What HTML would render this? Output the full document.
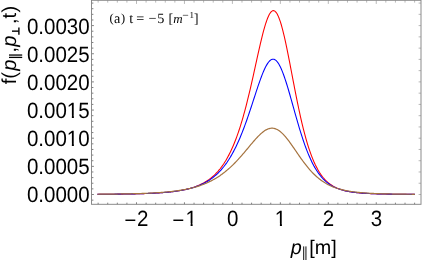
<!DOCTYPE html>
<html><head><meta charset="utf-8"><style>
html,body{margin:0;padding:0;background:#fff;}
svg{display:block;filter:blur(0.35px);}
text{font-family:"Liberation Sans",sans-serif;fill:#000;text-rendering:geometricPrecision;}
.s text{font-family:"Liberation Serif",serif;}
</style></head><body>
<svg width="422" height="260" viewBox="0 0 422 260">
<rect width="422" height="260" fill="#fff"/>
<g clip-path="url(#cp)">
<path d="M97.42,194.32 L98.22,194.31 L99.01,194.31 L99.81,194.31 L100.60,194.30 L101.40,194.30 L102.19,194.29 L102.99,194.29 L103.79,194.28 L104.58,194.27 L105.38,194.27 L106.17,194.26 L106.97,194.26 L107.76,194.25 L108.56,194.24 L109.35,194.24 L110.15,194.23 L110.95,194.22 L111.74,194.22 L112.54,194.21 L113.33,194.20 L114.13,194.19 L114.92,194.18 L115.72,194.18 L116.51,194.17 L117.31,194.16 L118.11,194.15 L118.90,194.14 L119.70,194.13 L120.49,194.12 L121.29,194.11 L122.08,194.10 L122.88,194.09 L123.67,194.08 L124.47,194.06 L125.27,194.05 L126.06,194.04 L126.86,194.03 L127.65,194.01 L128.45,194.00 L129.24,193.98 L130.04,193.97 L130.83,193.95 L131.63,193.94 L132.43,193.92 L133.22,193.91 L134.02,193.89 L134.81,193.87 L135.61,193.85 L136.40,193.83 L137.20,193.81 L137.99,193.79 L138.79,193.77 L139.59,193.75 L140.38,193.73 L141.18,193.70 L141.97,193.68 L142.77,193.65 L143.56,193.63 L144.36,193.60 L145.15,193.57 L145.95,193.55 L146.75,193.52 L147.54,193.49 L148.34,193.45 L149.13,193.42 L149.93,193.39 L150.72,193.35 L151.52,193.32 L152.31,193.28 L153.11,193.24 L153.91,193.20 L154.70,193.16 L155.50,193.11 L156.29,193.07 L157.09,193.02 L157.88,192.97 L158.68,192.92 L159.47,192.87 L160.27,192.82 L161.07,192.76 L161.86,192.71 L162.66,192.65 L163.45,192.58 L164.25,192.52 L165.04,192.45 L165.84,192.38 L166.63,192.31 L167.43,192.24 L168.23,192.16 L169.02,192.08 L169.82,192.00 L170.61,191.91 L171.41,191.82 L172.20,191.73 L173.00,191.63 L173.79,191.53 L174.59,191.43 L175.39,191.32 L176.18,191.21 L176.98,191.09 L177.77,190.97 L178.57,190.84 L179.36,190.71 L180.16,190.58 L180.95,190.43 L181.75,190.29 L182.55,190.14 L183.34,189.98 L184.14,189.81 L184.93,189.64 L185.73,189.46 L186.52,189.28 L187.32,189.09 L188.11,188.89 L188.91,188.68 L189.71,188.46 L190.50,188.24 L191.30,188.01 L192.09,187.76 L192.89,187.51 L193.68,187.25 L194.48,186.98 L195.27,186.69 L196.07,186.40 L196.87,186.09 L197.66,185.77 L198.46,185.44 L199.25,185.09 L200.05,184.73 L200.84,184.35 L201.64,183.96 L202.43,183.56 L203.23,183.14 L204.03,182.70 L204.82,182.24 L205.62,181.76 L206.41,181.27 L207.21,180.75 L208.00,180.22 L208.80,179.66 L209.59,179.08 L210.39,178.47 L211.19,177.84 L211.98,177.19 L212.78,176.51 L213.57,175.80 L214.37,175.06 L215.16,174.29 L215.96,173.49 L216.75,172.66 L217.55,171.80 L218.35,170.90 L219.14,169.96 L219.94,168.99 L220.73,167.98 L221.53,166.93 L222.32,165.83 L223.12,164.69 L223.92,163.51 L224.71,162.28 L225.51,161.00 L226.30,159.67 L227.10,158.29 L227.89,156.86 L228.69,155.37 L229.48,153.83 L230.28,152.23 L231.08,150.56 L231.87,148.84 L232.67,147.05 L233.46,145.19 L234.26,143.27 L235.05,141.28 L235.85,139.21 L236.64,137.08 L237.44,134.87 L238.24,132.59 L239.03,130.24 L239.83,127.80 L240.62,125.29 L241.42,122.70 L242.21,120.04 L243.01,117.30 L243.80,114.47 L244.60,111.57 L245.40,108.60 L246.19,105.55 L246.99,102.43 L247.78,99.24 L248.58,95.98 L249.37,92.66 L250.17,89.27 L250.96,85.84 L251.76,82.35 L252.56,78.82 L253.35,75.26 L254.15,71.67 L254.94,68.06 L255.74,64.44 L256.53,60.83 L257.33,57.22 L258.12,53.64 L258.92,50.10 L259.72,46.61 L260.51,43.19 L261.31,39.85 L262.10,36.61 L262.90,33.48 L263.69,30.48 L264.49,27.64 L265.28,24.95 L266.08,22.45 L266.88,20.15 L267.67,18.06 L268.47,16.20 L269.26,14.59 L270.06,13.23 L270.85,12.15 L271.65,11.35 L272.44,10.84 L273.24,10.63 L274.04,10.72 L274.83,11.12 L275.63,11.81 L276.42,12.80 L277.22,14.08 L278.01,15.65 L278.81,17.49 L279.60,19.58 L280.40,21.93 L281.20,24.52 L281.99,27.33 L282.79,30.34 L283.58,33.54 L284.38,36.92 L285.17,40.45 L285.97,44.12 L286.76,47.91 L287.56,51.81 L288.36,55.79 L289.15,59.84 L289.95,63.94 L290.74,68.08 L291.54,72.24 L292.33,76.40 L293.13,80.56 L293.92,84.70 L294.72,88.80 L295.52,92.87 L296.31,96.87 L297.11,100.82 L297.90,104.70 L298.70,108.49 L299.49,112.20 L300.29,115.82 L301.08,119.35 L301.88,122.77 L302.68,126.10 L303.47,129.32 L304.27,132.43 L305.06,135.43 L305.86,138.33 L306.65,141.11 L307.45,143.79 L308.24,146.36 L309.04,148.83 L309.84,151.19 L310.63,153.44 L311.43,155.60 L312.22,157.66 L313.02,159.62 L313.81,161.49 L314.61,163.27 L315.40,164.96 L316.20,166.57 L317.00,168.10 L317.79,169.54 L318.59,170.92 L319.38,172.22 L320.18,173.45 L320.97,174.61 L321.77,175.71 L322.56,176.75 L323.36,177.74 L324.16,178.67 L324.95,179.54 L325.75,180.37 L326.54,181.15 L327.34,181.89 L328.13,182.58 L328.93,183.24 L329.72,183.85 L330.52,184.44 L331.32,184.98 L332.11,185.50 L332.91,185.99 L333.70,186.44 L334.50,186.88 L335.29,187.28 L336.09,187.67 L336.88,188.03 L337.68,188.37 L338.48,188.69 L339.27,188.99 L340.07,189.27 L340.86,189.54 L341.66,189.79 L342.45,190.03 L343.25,190.26 L344.04,190.47 L344.84,190.67 L345.64,190.86 L346.43,191.04 L347.23,191.21 L348.02,191.37 L348.82,191.52 L349.61,191.66 L350.41,191.80 L351.20,191.92 L352.00,192.04 L352.80,192.16 L353.59,192.27 L354.39,192.37 L355.18,192.47 L355.98,192.56 L356.77,192.65 L357.57,192.73 L358.36,192.81 L359.16,192.88 L359.96,192.95 L360.75,193.02 L361.55,193.09 L362.34,193.15 L363.14,193.21 L363.93,193.26 L364.73,193.31 L365.52,193.36 L366.32,193.41 L367.12,193.46 L367.91,193.50 L368.71,193.54 L369.50,193.58 L370.30,193.62 L371.09,193.65 L371.89,193.69 L372.68,193.72 L373.48,193.75 L374.28,193.78 L375.07,193.81 L375.87,193.83 L376.66,193.86 L377.46,193.88 L378.25,193.91 L379.05,193.93 L379.85,193.95 L380.64,193.97 L381.44,193.99 L382.23,194.01 L383.03,194.03 L383.82,194.05 L384.62,194.06 L385.41,194.08 L386.21,194.09 L387.01,194.11 L387.80,194.12 L388.60,194.14 L389.39,194.15 L390.19,194.16 L390.98,194.17 L391.78,194.19 L392.57,194.20 L393.37,194.21 L394.17,194.22 L394.96,194.23 L395.76,194.24 L396.55,194.24 L397.35,194.25 L398.14,194.26 L398.94,194.27 L399.73,194.28 L400.53,194.28 L401.33,194.29 L402.12,194.30 L402.92,194.31 L403.71,194.31 L404.51,194.32 L405.30,194.32 L406.10,194.33 L406.89,194.33 L407.69,194.34 L408.49,194.34 L409.28,194.35 L410.08,194.35 L410.87,194.36 L411.67,194.36 L412.46,194.37 L413.26,194.37 L414.05,194.38 L414.85,194.38" fill="none" stroke="#ff0000" stroke-width="1.08" stroke-linejoin="round"/>
<path d="M97.42,194.31 L98.22,194.30 L99.01,194.30 L99.81,194.29 L100.60,194.29 L101.40,194.28 L102.19,194.28 L102.99,194.27 L103.79,194.26 L104.58,194.26 L105.38,194.25 L106.17,194.25 L106.97,194.24 L107.76,194.23 L108.56,194.23 L109.35,194.22 L110.15,194.21 L110.95,194.20 L111.74,194.20 L112.54,194.19 L113.33,194.18 L114.13,194.17 L114.92,194.16 L115.72,194.15 L116.51,194.15 L117.31,194.14 L118.11,194.13 L118.90,194.12 L119.70,194.11 L120.49,194.10 L121.29,194.08 L122.08,194.07 L122.88,194.06 L123.67,194.05 L124.47,194.04 L125.27,194.03 L126.06,194.01 L126.86,194.00 L127.65,193.98 L128.45,193.97 L129.24,193.96 L130.04,193.94 L130.83,193.92 L131.63,193.91 L132.43,193.89 L133.22,193.87 L134.02,193.86 L134.81,193.84 L135.61,193.82 L136.40,193.80 L137.20,193.78 L137.99,193.76 L138.79,193.74 L139.59,193.71 L140.38,193.69 L141.18,193.67 L141.97,193.64 L142.77,193.62 L143.56,193.59 L144.36,193.56 L145.15,193.53 L145.95,193.50 L146.75,193.47 L147.54,193.44 L148.34,193.41 L149.13,193.38 L149.93,193.34 L150.72,193.31 L151.52,193.27 L152.31,193.23 L153.11,193.19 L153.91,193.15 L154.70,193.11 L155.50,193.07 L156.29,193.02 L157.09,192.97 L157.88,192.93 L158.68,192.88 L159.47,192.82 L160.27,192.77 L161.07,192.71 L161.86,192.66 L162.66,192.60 L163.45,192.53 L164.25,192.47 L165.04,192.40 L165.84,192.34 L166.63,192.26 L167.43,192.19 L168.23,192.11 L169.02,192.03 L169.82,191.95 L170.61,191.87 L171.41,191.78 L172.20,191.69 L173.00,191.59 L173.79,191.49 L174.59,191.39 L175.39,191.29 L176.18,191.18 L176.98,191.06 L177.77,190.95 L178.57,190.82 L179.36,190.70 L180.16,190.56 L180.95,190.43 L181.75,190.29 L182.55,190.14 L183.34,189.99 L184.14,189.83 L184.93,189.67 L185.73,189.49 L186.52,189.32 L187.32,189.13 L188.11,188.94 L188.91,188.75 L189.71,188.54 L190.50,188.33 L191.30,188.11 L192.09,187.88 L192.89,187.64 L193.68,187.40 L194.48,187.14 L195.27,186.87 L196.07,186.60 L196.87,186.31 L197.66,186.01 L198.46,185.71 L199.25,185.39 L200.05,185.05 L200.84,184.71 L201.64,184.35 L202.43,183.98 L203.23,183.59 L204.03,183.19 L204.82,182.78 L205.62,182.34 L206.41,181.90 L207.21,181.43 L208.00,180.95 L208.80,180.45 L209.59,179.93 L210.39,179.39 L211.19,178.83 L211.98,178.25 L212.78,177.65 L213.57,177.03 L214.37,176.38 L215.16,175.71 L215.96,175.02 L216.75,174.30 L217.55,173.55 L218.35,172.77 L219.14,171.97 L219.94,171.14 L220.73,170.28 L221.53,169.38 L222.32,168.46 L223.12,167.50 L223.92,166.51 L224.71,165.48 L225.51,164.42 L226.30,163.32 L227.10,162.19 L227.89,161.01 L228.69,159.80 L229.48,158.54 L230.28,157.24 L231.08,155.90 L231.87,154.52 L232.67,153.09 L233.46,151.62 L234.26,150.11 L235.05,148.54 L235.85,146.93 L236.64,145.28 L237.44,143.57 L238.24,141.82 L239.03,140.02 L239.83,138.17 L240.62,136.27 L241.42,134.33 L242.21,132.34 L243.01,130.30 L243.80,128.22 L244.60,126.09 L245.40,123.92 L246.19,121.71 L246.99,119.46 L247.78,117.18 L248.58,114.86 L249.37,112.51 L250.17,110.13 L250.96,107.73 L251.76,105.31 L252.56,102.88 L253.35,100.44 L254.15,97.99 L254.94,95.55 L255.74,93.12 L256.53,90.70 L257.33,88.30 L258.12,85.94 L258.92,83.62 L259.72,81.34 L260.51,79.13 L261.31,76.98 L262.10,74.91 L262.90,72.92 L263.69,71.03 L264.49,69.24 L265.28,67.57 L266.08,66.03 L266.88,64.62 L267.67,63.35 L268.47,62.24 L269.26,61.28 L270.06,60.50 L270.85,59.89 L271.65,59.46 L272.44,59.22 L273.24,59.17 L274.04,59.30 L274.83,59.63 L275.63,60.15 L276.42,60.86 L277.22,61.75 L278.01,62.81 L278.81,64.05 L279.60,65.46 L280.40,67.02 L281.20,68.74 L281.99,70.60 L282.79,72.60 L283.58,74.72 L284.38,76.96 L285.17,79.30 L285.97,81.74 L286.76,84.26 L287.56,86.87 L288.36,89.53 L289.15,92.25 L289.95,95.02 L290.74,97.82 L291.54,100.64 L292.33,103.49 L293.13,106.34 L293.92,109.19 L294.72,112.03 L295.52,114.86 L296.31,117.67 L297.11,120.44 L297.90,123.19 L298.70,125.89 L299.49,128.54 L300.29,131.15 L301.08,133.70 L301.88,136.20 L302.68,138.63 L303.47,141.01 L304.27,143.31 L305.06,145.56 L305.86,147.73 L306.65,149.84 L307.45,151.87 L308.24,153.84 L309.04,155.74 L309.84,157.57 L310.63,159.33 L311.43,161.02 L312.22,162.64 L313.02,164.20 L313.81,165.69 L314.61,167.12 L315.40,168.48 L316.20,169.79 L317.00,171.04 L317.79,172.23 L318.59,173.36 L319.38,174.44 L320.18,175.47 L320.97,176.45 L321.77,177.38 L322.56,178.26 L323.36,179.10 L324.16,179.90 L324.95,180.65 L325.75,181.37 L326.54,182.05 L327.34,182.69 L328.13,183.30 L328.93,183.88 L329.72,184.43 L330.52,184.95 L331.32,185.44 L332.11,185.90 L332.91,186.34 L333.70,186.75 L334.50,187.14 L335.29,187.52 L336.09,187.87 L336.88,188.20 L337.68,188.51 L338.48,188.81 L339.27,189.09 L340.07,189.36 L340.86,189.61 L341.66,189.84 L342.45,190.07 L343.25,190.28 L344.04,190.48 L344.84,190.67 L345.64,190.86 L346.43,191.03 L347.23,191.19 L348.02,191.34 L348.82,191.49 L349.61,191.63 L350.41,191.76 L351.20,191.88 L352.00,192.00 L352.80,192.11 L353.59,192.22 L354.39,192.32 L355.18,192.41 L355.98,192.51 L356.77,192.59 L357.57,192.67 L358.36,192.75 L359.16,192.83 L359.96,192.90 L360.75,192.97 L361.55,193.03 L362.34,193.09 L363.14,193.15 L363.93,193.21 L364.73,193.26 L365.52,193.31 L366.32,193.36 L367.12,193.40 L367.91,193.45 L368.71,193.49 L369.50,193.53 L370.30,193.57 L371.09,193.60 L371.89,193.64 L372.68,193.67 L373.48,193.70 L374.28,193.73 L375.07,193.76 L375.87,193.79 L376.66,193.82 L377.46,193.84 L378.25,193.87 L379.05,193.89 L379.85,193.91 L380.64,193.94 L381.44,193.96 L382.23,193.98 L383.03,194.00 L383.82,194.01 L384.62,194.03 L385.41,194.05 L386.21,194.06 L387.01,194.08 L387.80,194.09 L388.60,194.11 L389.39,194.12 L390.19,194.13 L390.98,194.15 L391.78,194.16 L392.57,194.17 L393.37,194.18 L394.17,194.19 L394.96,194.20 L395.76,194.21 L396.55,194.22 L397.35,194.23 L398.14,194.24 L398.94,194.25 L399.73,194.26 L400.53,194.27 L401.33,194.27 L402.12,194.28 L402.92,194.29 L403.71,194.29 L404.51,194.30 L405.30,194.31 L406.10,194.31 L406.89,194.32 L407.69,194.32 L408.49,194.33 L409.28,194.34 L410.08,194.34 L410.87,194.34 L411.67,194.35 L412.46,194.35 L413.26,194.36 L414.05,194.36 L414.85,194.37" fill="none" stroke="#0000ff" stroke-width="1.08" stroke-linejoin="round"/>
<path d="M97.42,194.24 L98.22,194.24 L99.01,194.23 L99.81,194.22 L100.60,194.22 L101.40,194.21 L102.19,194.20 L102.99,194.20 L103.79,194.19 L104.58,194.18 L105.38,194.17 L106.17,194.17 L106.97,194.16 L107.76,194.15 L108.56,194.14 L109.35,194.13 L110.15,194.12 L110.95,194.11 L111.74,194.10 L112.54,194.09 L113.33,194.08 L114.13,194.07 L114.92,194.06 L115.72,194.05 L116.51,194.04 L117.31,194.03 L118.11,194.02 L118.90,194.01 L119.70,193.99 L120.49,193.98 L121.29,193.97 L122.08,193.95 L122.88,193.94 L123.67,193.93 L124.47,193.91 L125.27,193.90 L126.06,193.88 L126.86,193.86 L127.65,193.85 L128.45,193.83 L129.24,193.81 L130.04,193.80 L130.83,193.78 L131.63,193.76 L132.43,193.74 L133.22,193.72 L134.02,193.70 L134.81,193.68 L135.61,193.65 L136.40,193.63 L137.20,193.61 L137.99,193.58 L138.79,193.56 L139.59,193.53 L140.38,193.51 L141.18,193.48 L141.97,193.45 L142.77,193.42 L143.56,193.39 L144.36,193.36 L145.15,193.33 L145.95,193.30 L146.75,193.26 L147.54,193.23 L148.34,193.19 L149.13,193.16 L149.93,193.12 L150.72,193.08 L151.52,193.04 L152.31,193.00 L153.11,192.95 L153.91,192.91 L154.70,192.86 L155.50,192.82 L156.29,192.77 L157.09,192.72 L157.88,192.67 L158.68,192.61 L159.47,192.56 L160.27,192.50 L161.07,192.44 L161.86,192.38 L162.66,192.32 L163.45,192.26 L164.25,192.19 L165.04,192.12 L165.84,192.05 L166.63,191.98 L167.43,191.90 L168.23,191.83 L169.02,191.75 L169.82,191.66 L170.61,191.58 L171.41,191.49 L172.20,191.40 L173.00,191.31 L173.79,191.21 L174.59,191.11 L175.39,191.01 L176.18,190.90 L176.98,190.79 L177.77,190.68 L178.57,190.56 L179.36,190.44 L180.16,190.32 L180.95,190.19 L181.75,190.06 L182.55,189.92 L183.34,189.78 L184.14,189.64 L184.93,189.49 L185.73,189.33 L186.52,189.17 L187.32,189.01 L188.11,188.84 L188.91,188.67 L189.71,188.49 L190.50,188.30 L191.30,188.11 L192.09,187.91 L192.89,187.71 L193.68,187.49 L194.48,187.28 L195.27,187.05 L196.07,186.82 L196.87,186.59 L197.66,186.34 L198.46,186.09 L199.25,185.83 L200.05,185.56 L200.84,185.28 L201.64,185.00 L202.43,184.71 L203.23,184.40 L204.03,184.09 L204.82,183.77 L205.62,183.44 L206.41,183.10 L207.21,182.75 L208.00,182.39 L208.80,182.02 L209.59,181.64 L210.39,181.25 L211.19,180.85 L211.98,180.44 L212.78,180.01 L213.57,179.58 L214.37,179.13 L215.16,178.67 L215.96,178.19 L216.75,177.71 L217.55,177.21 L218.35,176.70 L219.14,176.17 L219.94,175.64 L220.73,175.08 L221.53,174.52 L222.32,173.94 L223.12,173.35 L223.92,172.74 L224.71,172.12 L225.51,171.48 L226.30,170.83 L227.10,170.16 L227.89,169.48 L228.69,168.79 L229.48,168.08 L230.28,167.36 L231.08,166.62 L231.87,165.87 L232.67,165.10 L233.46,164.32 L234.26,163.52 L235.05,162.71 L235.85,161.89 L236.64,161.06 L237.44,160.21 L238.24,159.35 L239.03,158.47 L239.83,157.59 L240.62,156.69 L241.42,155.79 L242.21,154.87 L243.01,153.95 L243.80,153.02 L244.60,152.08 L245.40,151.14 L246.19,150.19 L246.99,149.24 L247.78,148.28 L248.58,147.33 L249.37,146.37 L250.17,145.42 L250.96,144.47 L251.76,143.52 L252.56,142.59 L253.35,141.66 L254.15,140.74 L254.94,139.84 L255.74,138.95 L256.53,138.07 L257.33,137.22 L258.12,136.39 L258.92,135.59 L259.72,134.81 L260.51,134.06 L261.31,133.35 L262.10,132.66 L262.90,132.02 L263.69,131.42 L264.49,130.86 L265.28,130.35 L266.08,129.88 L266.88,129.47 L267.67,129.11 L268.47,128.80 L269.26,128.55 L270.06,128.37 L270.85,128.24 L271.65,128.18 L272.44,128.18 L273.24,128.25 L274.04,128.39 L274.83,128.59 L275.63,128.85 L276.42,129.18 L277.22,129.56 L278.01,130.01 L278.81,130.52 L279.60,131.09 L280.40,131.71 L281.20,132.38 L281.99,133.11 L282.79,133.88 L283.58,134.70 L284.38,135.56 L285.17,136.46 L285.97,137.40 L286.76,138.38 L287.56,139.38 L288.36,140.42 L289.15,141.47 L289.95,142.56 L290.74,143.66 L291.54,144.78 L292.33,145.91 L293.13,147.05 L293.92,148.20 L294.72,149.36 L295.52,150.52 L296.31,151.68 L297.11,152.84 L297.90,154.00 L298.70,155.15 L299.49,156.29 L300.29,157.43 L301.08,158.55 L301.88,159.66 L302.68,160.75 L303.47,161.83 L304.27,162.90 L305.06,163.94 L305.86,164.97 L306.65,165.97 L307.45,166.96 L308.24,167.92 L309.04,168.86 L309.84,169.78 L310.63,170.67 L311.43,171.54 L312.22,172.39 L313.02,173.22 L313.81,174.02 L314.61,174.80 L315.40,175.55 L316.20,176.28 L317.00,176.99 L317.79,177.67 L318.59,178.33 L319.38,178.97 L320.18,179.59 L320.97,180.18 L321.77,180.76 L322.56,181.31 L323.36,181.84 L324.16,182.35 L324.95,182.85 L325.75,183.32 L326.54,183.78 L327.34,184.21 L328.13,184.63 L328.93,185.04 L329.72,185.43 L330.52,185.80 L331.32,186.15 L332.11,186.50 L332.91,186.82 L333.70,187.14 L334.50,187.44 L335.29,187.73 L336.09,188.00 L336.88,188.27 L337.68,188.52 L338.48,188.77 L339.27,189.00 L340.07,189.22 L340.86,189.43 L341.66,189.64 L342.45,189.83 L343.25,190.02 L344.04,190.20 L344.84,190.37 L345.64,190.53 L346.43,190.69 L347.23,190.84 L348.02,190.98 L348.82,191.12 L349.61,191.25 L350.41,191.38 L351.20,191.50 L352.00,191.62 L352.80,191.73 L353.59,191.83 L354.39,191.94 L355.18,192.03 L355.98,192.13 L356.77,192.22 L357.57,192.30 L358.36,192.39 L359.16,192.46 L359.96,192.54 L360.75,192.61 L361.55,192.68 L362.34,192.75 L363.14,192.81 L363.93,192.87 L364.73,192.93 L365.52,192.99 L366.32,193.04 L367.12,193.10 L367.91,193.15 L368.71,193.20 L369.50,193.24 L370.30,193.29 L371.09,193.33 L371.89,193.37 L372.68,193.41 L373.48,193.45 L374.28,193.48 L375.07,193.52 L375.87,193.55 L376.66,193.58 L377.46,193.62 L378.25,193.65 L379.05,193.67 L379.85,193.70 L380.64,193.73 L381.44,193.76 L382.23,193.78 L383.03,193.80 L383.82,193.83 L384.62,193.85 L385.41,193.87 L386.21,193.89 L387.01,193.91 L387.80,193.93 L388.60,193.95 L389.39,193.97 L390.19,193.98 L390.98,194.00 L391.78,194.01 L392.57,194.03 L393.37,194.05 L394.17,194.06 L394.96,194.07 L395.76,194.09 L396.55,194.10 L397.35,194.11 L398.14,194.12 L398.94,194.13 L399.73,194.15 L400.53,194.16 L401.33,194.17 L402.12,194.18 L402.92,194.19 L403.71,194.20 L404.51,194.21 L405.30,194.21 L406.10,194.22 L406.89,194.23 L407.69,194.24 L408.49,194.25 L409.28,194.25 L410.08,194.26 L410.87,194.27 L411.67,194.27 L412.46,194.28 L413.26,194.29 L414.05,194.29 L414.85,194.30" fill="none" stroke="#a5733f" stroke-width="1.2" stroke-linejoin="round"/>
</g>
<clipPath id="cp"><rect x="91.5" y="0.3" width="329.5" height="204.0"/></clipPath>
<g stroke="#606060" stroke-width="0.8" fill="none"><line x1="98.14" y1="204.3" x2="98.14" y2="202.70000000000002"/><line x1="107.73" y1="204.3" x2="107.73" y2="202.70000000000002"/><line x1="117.32" y1="204.3" x2="117.32" y2="202.70000000000002"/><line x1="126.91" y1="204.3" x2="126.91" y2="202.70000000000002"/><line x1="136.50" y1="204.3" x2="136.50" y2="202.3"/><line x1="146.09" y1="204.3" x2="146.09" y2="202.70000000000002"/><line x1="155.68" y1="204.3" x2="155.68" y2="202.70000000000002"/><line x1="165.27" y1="204.3" x2="165.27" y2="202.70000000000002"/><line x1="174.86" y1="204.3" x2="174.86" y2="202.70000000000002"/><line x1="184.45" y1="204.3" x2="184.45" y2="202.3"/><line x1="194.04" y1="204.3" x2="194.04" y2="202.70000000000002"/><line x1="203.63" y1="204.3" x2="203.63" y2="202.70000000000002"/><line x1="213.22" y1="204.3" x2="213.22" y2="202.70000000000002"/><line x1="222.81" y1="204.3" x2="222.81" y2="202.70000000000002"/><line x1="232.40" y1="204.3" x2="232.40" y2="202.3"/><line x1="241.99" y1="204.3" x2="241.99" y2="202.70000000000002"/><line x1="251.58" y1="204.3" x2="251.58" y2="202.70000000000002"/><line x1="261.17" y1="204.3" x2="261.17" y2="202.70000000000002"/><line x1="270.76" y1="204.3" x2="270.76" y2="202.70000000000002"/><line x1="280.35" y1="204.3" x2="280.35" y2="202.3"/><line x1="289.94" y1="204.3" x2="289.94" y2="202.70000000000002"/><line x1="299.53" y1="204.3" x2="299.53" y2="202.70000000000002"/><line x1="309.12" y1="204.3" x2="309.12" y2="202.70000000000002"/><line x1="318.71" y1="204.3" x2="318.71" y2="202.70000000000002"/><line x1="328.30" y1="204.3" x2="328.30" y2="202.3"/><line x1="337.89" y1="204.3" x2="337.89" y2="202.70000000000002"/><line x1="347.48" y1="204.3" x2="347.48" y2="202.70000000000002"/><line x1="357.07" y1="204.3" x2="357.07" y2="202.70000000000002"/><line x1="366.66" y1="204.3" x2="366.66" y2="202.70000000000002"/><line x1="376.25" y1="204.3" x2="376.25" y2="202.3"/><line x1="385.84" y1="204.3" x2="385.84" y2="202.70000000000002"/><line x1="395.43" y1="204.3" x2="395.43" y2="202.70000000000002"/><line x1="405.02" y1="204.3" x2="405.02" y2="202.70000000000002"/><line x1="414.61" y1="204.3" x2="414.61" y2="202.70000000000002"/><line x1="91.5" y1="200.13" x2="93.4" y2="200.13"/><line x1="91.5" y1="194.50" x2="93.9" y2="194.50"/><line x1="91.5" y1="188.87" x2="93.4" y2="188.87"/><line x1="91.5" y1="183.24" x2="93.4" y2="183.24"/><line x1="91.5" y1="177.61" x2="93.4" y2="177.61"/><line x1="91.5" y1="171.98" x2="93.4" y2="171.98"/><line x1="91.5" y1="166.35" x2="93.9" y2="166.35"/><line x1="91.5" y1="160.72" x2="93.4" y2="160.72"/><line x1="91.5" y1="155.09" x2="93.4" y2="155.09"/><line x1="91.5" y1="149.46" x2="93.4" y2="149.46"/><line x1="91.5" y1="143.83" x2="93.4" y2="143.83"/><line x1="91.5" y1="138.20" x2="93.9" y2="138.20"/><line x1="91.5" y1="132.57" x2="93.4" y2="132.57"/><line x1="91.5" y1="126.94" x2="93.4" y2="126.94"/><line x1="91.5" y1="121.31" x2="93.4" y2="121.31"/><line x1="91.5" y1="115.68" x2="93.4" y2="115.68"/><line x1="91.5" y1="110.05" x2="93.9" y2="110.05"/><line x1="91.5" y1="104.42" x2="93.4" y2="104.42"/><line x1="91.5" y1="98.79" x2="93.4" y2="98.79"/><line x1="91.5" y1="93.16" x2="93.4" y2="93.16"/><line x1="91.5" y1="87.53" x2="93.4" y2="87.53"/><line x1="91.5" y1="81.90" x2="93.9" y2="81.90"/><line x1="91.5" y1="76.27" x2="93.4" y2="76.27"/><line x1="91.5" y1="70.64" x2="93.4" y2="70.64"/><line x1="91.5" y1="65.01" x2="93.4" y2="65.01"/><line x1="91.5" y1="59.38" x2="93.4" y2="59.38"/><line x1="91.5" y1="53.75" x2="93.9" y2="53.75"/><line x1="91.5" y1="48.12" x2="93.4" y2="48.12"/><line x1="91.5" y1="42.49" x2="93.4" y2="42.49"/><line x1="91.5" y1="36.86" x2="93.4" y2="36.86"/><line x1="91.5" y1="31.23" x2="93.4" y2="31.23"/><line x1="91.5" y1="25.60" x2="93.9" y2="25.60"/><line x1="91.5" y1="19.97" x2="93.4" y2="19.97"/><line x1="91.5" y1="14.34" x2="93.4" y2="14.34"/><line x1="91.5" y1="8.71" x2="93.4" y2="8.71"/><line x1="91.5" y1="3.08" x2="93.4" y2="3.08"/></g>
<g stroke="#8a8a8a" stroke-width="0.6" fill="none"><line x1="98.14" y1="0.3" x2="98.14" y2="2.5999999999999996"/><line x1="107.73" y1="0.3" x2="107.73" y2="2.5999999999999996"/><line x1="117.32" y1="0.3" x2="117.32" y2="2.5999999999999996"/><line x1="126.91" y1="0.3" x2="126.91" y2="2.5999999999999996"/><line x1="136.50" y1="0.3" x2="136.50" y2="3.9"/><line x1="146.09" y1="0.3" x2="146.09" y2="2.5999999999999996"/><line x1="155.68" y1="0.3" x2="155.68" y2="2.5999999999999996"/><line x1="165.27" y1="0.3" x2="165.27" y2="2.5999999999999996"/><line x1="174.86" y1="0.3" x2="174.86" y2="2.5999999999999996"/><line x1="184.45" y1="0.3" x2="184.45" y2="3.9"/><line x1="194.04" y1="0.3" x2="194.04" y2="2.5999999999999996"/><line x1="203.63" y1="0.3" x2="203.63" y2="2.5999999999999996"/><line x1="213.22" y1="0.3" x2="213.22" y2="2.5999999999999996"/><line x1="222.81" y1="0.3" x2="222.81" y2="2.5999999999999996"/><line x1="232.40" y1="0.3" x2="232.40" y2="3.9"/><line x1="241.99" y1="0.3" x2="241.99" y2="2.5999999999999996"/><line x1="251.58" y1="0.3" x2="251.58" y2="2.5999999999999996"/><line x1="261.17" y1="0.3" x2="261.17" y2="2.5999999999999996"/><line x1="270.76" y1="0.3" x2="270.76" y2="2.5999999999999996"/><line x1="280.35" y1="0.3" x2="280.35" y2="3.9"/><line x1="289.94" y1="0.3" x2="289.94" y2="2.5999999999999996"/><line x1="299.53" y1="0.3" x2="299.53" y2="2.5999999999999996"/><line x1="309.12" y1="0.3" x2="309.12" y2="2.5999999999999996"/><line x1="318.71" y1="0.3" x2="318.71" y2="2.5999999999999996"/><line x1="328.30" y1="0.3" x2="328.30" y2="3.9"/><line x1="337.89" y1="0.3" x2="337.89" y2="2.5999999999999996"/><line x1="347.48" y1="0.3" x2="347.48" y2="2.5999999999999996"/><line x1="357.07" y1="0.3" x2="357.07" y2="2.5999999999999996"/><line x1="366.66" y1="0.3" x2="366.66" y2="2.5999999999999996"/><line x1="376.25" y1="0.3" x2="376.25" y2="3.9"/><line x1="385.84" y1="0.3" x2="385.84" y2="2.5999999999999996"/><line x1="395.43" y1="0.3" x2="395.43" y2="2.5999999999999996"/><line x1="405.02" y1="0.3" x2="405.02" y2="2.5999999999999996"/><line x1="414.61" y1="0.3" x2="414.61" y2="2.5999999999999996"/><line x1="421.0" y1="194.50" x2="418.6" y2="194.50"/><line x1="421.0" y1="183.24" x2="418.6" y2="183.24"/><line x1="421.0" y1="171.98" x2="418.6" y2="171.98"/><line x1="421.0" y1="160.72" x2="418.6" y2="160.72"/><line x1="421.0" y1="149.46" x2="418.6" y2="149.46"/><line x1="421.0" y1="138.20" x2="418.6" y2="138.20"/><line x1="421.0" y1="126.94" x2="418.6" y2="126.94"/><line x1="421.0" y1="115.68" x2="418.6" y2="115.68"/><line x1="421.0" y1="104.42" x2="418.6" y2="104.42"/><line x1="421.0" y1="93.16" x2="418.6" y2="93.16"/><line x1="421.0" y1="81.90" x2="418.6" y2="81.90"/><line x1="421.0" y1="70.64" x2="418.6" y2="70.64"/><line x1="421.0" y1="59.38" x2="418.6" y2="59.38"/><line x1="421.0" y1="48.12" x2="418.6" y2="48.12"/><line x1="421.0" y1="36.86" x2="418.6" y2="36.86"/><line x1="421.0" y1="25.60" x2="418.6" y2="25.60"/><line x1="421.0" y1="14.34" x2="418.6" y2="14.34"/><line x1="421.0" y1="3.08" x2="418.6" y2="3.08"/></g>
<rect x="91.5" y="0.3" width="329.5" height="204.0" fill="none" stroke="#858585" stroke-width="0.95"/>
<g font-size="20.5"><text transform="translate(136.90,225.8) scale(1,1.08)">2</text><line x1="125.40" y1="220.25" x2="135.30" y2="220.25" stroke="#000" stroke-width="1.45"/><text transform="translate(185.55,225.8) scale(1,1.08)">1</text><line x1="173.35" y1="220.25" x2="183.25" y2="220.25" stroke="#000" stroke-width="1.45"/><text transform="translate(232.60,225.8) scale(1,1.08)" text-anchor="middle">0</text><text transform="translate(280.55,225.8) scale(1,1.08)" text-anchor="middle">1</text><text transform="translate(328.50,225.8) scale(1,1.08)" text-anchor="middle">2</text><text transform="translate(376.45,225.8) scale(1,1.08)" text-anchor="middle">3</text><text transform="translate(89.6,202.40) scale(1,1.08)" text-anchor="end">0.0000</text><text transform="translate(89.6,174.25) scale(1,1.08)" text-anchor="end">0.0005</text><text transform="translate(89.6,146.10) scale(1,1.08)" text-anchor="end">0.0010</text><text transform="translate(89.6,117.95) scale(1,1.08)" text-anchor="end">0.0015</text><text transform="translate(89.6,89.80) scale(1,1.08)" text-anchor="end">0.0020</text><text transform="translate(89.6,61.65) scale(1,1.08)" text-anchor="end">0.0025</text><text transform="translate(89.6,33.50) scale(1,1.08)" text-anchor="end">0.0030</text></g>
<g fill="#fff"><rect x="186.45" y="223.35" width="4.15" height="3.2"/><rect x="192.63" y="223.35" width="4.3" height="3.2"/><rect x="275.75" y="223.35" width="4.15" height="3.2"/><rect x="281.93" y="223.35" width="4.3" height="3.2"/><rect x="67.70" y="143.65" width="4.15" height="3.2"/><rect x="73.88" y="143.65" width="4.3" height="3.2"/><rect x="67.70" y="115.50" width="4.15" height="3.2"/><rect x="73.88" y="115.50" width="4.3" height="3.2"/></g>
<g font-size="19.8">
<text x="290.8" y="253.6" font-style="italic">p</text>
<text x="309.3" y="253.6">[m]</text>
<g stroke="#000" stroke-width="0.95"><line x1="303.7" y1="246.4" x2="303.7" y2="260"/><line x1="305.95" y1="246.4" x2="305.95" y2="260"/></g>
</g>
<g transform="translate(16.2,84.3) rotate(-90)" font-size="20.2">
<text x="0" y="0">f</text>
<text x="5.6" y="0">(</text>
<text x="13.6" y="0" font-style="italic">p</text>
<g stroke="#000" stroke-width="1.3"><line x1="26.9" y1="-7.2" x2="26.9" y2="6.0"/><line x1="29.25" y1="-7.2" x2="29.25" y2="6.0"/></g>
<text x="31.9" y="0">,</text>
<text x="37.5" y="0" font-style="italic">p</text>
<g stroke="#000" stroke-width="1.4"><line x1="49.6" y1="2.7" x2="56.7" y2="2.7"/><line x1="53.15" y1="2.7" x2="53.15" y2="-4.2"/></g>
<text x="60.3" y="0">,</text>
<text x="65.7" y="0">t</text>
<text x="71.8" y="0">)</text>
</g>
<g class="s" font-size="14.2">
<text x="109.6" y="22.1" font-size="12.4">(</text>
<text x="113.9" y="22.7">a</text>
<text x="120.9" y="22.1" font-size="12.4">)</text>
<text x="129.2" y="22.7">t</text>
<text x="136.3" y="22.7">=</text>
<text x="148.6" y="22.7">−</text>
<text x="157.2" y="22.7">5</text>
<text x="168.6" y="22.8" font-size="13.6">[</text>
<text x="173.2" y="22.7" font-style="italic" font-size="13">m</text>
<text x="182.3" y="19.3" font-size="11.5">−</text>
<text x="189.5" y="17.6" font-size="9">1</text>
<text x="194.1" y="22.8" font-size="13.6">]</text>
</g>
</svg>
</body></html>
